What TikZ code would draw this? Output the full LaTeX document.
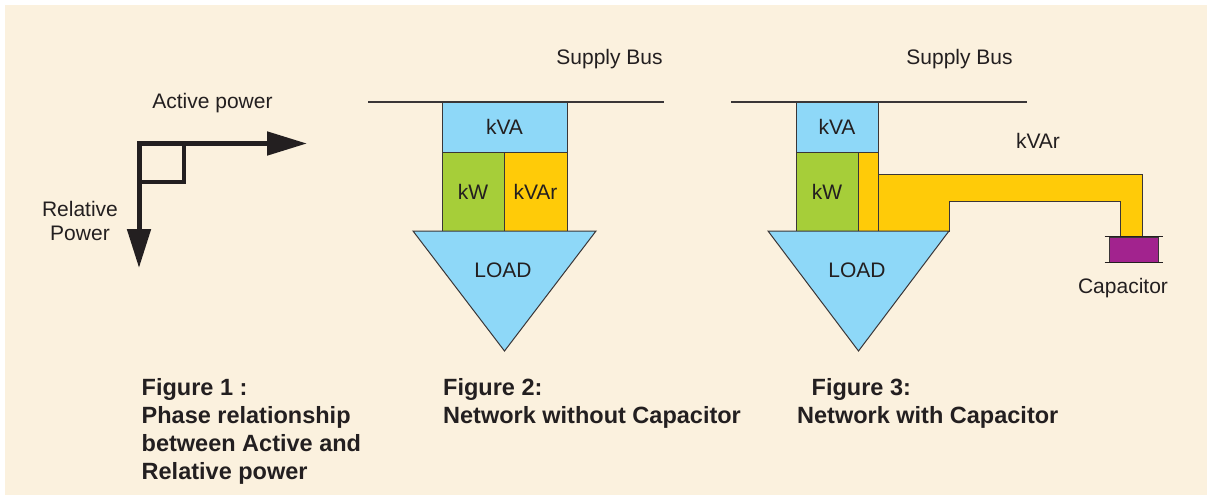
\documentclass[tikz,border=0pt]{standalone}
\usepackage{fontspec}
\setmainfont{Liberation Sans}
\usetikzlibrary{arrows.meta}

\definecolor{paper}{HTML}{FBF1DE}
\definecolor{ink}{HTML}{231F20}
\definecolor{edge}{HTML}{3A3637}
\definecolor{skyfill}{HTML}{8ED8F8}
\definecolor{kwfill}{HTML}{A6CE39}
\definecolor{varfill}{HTML}{FFCB08}
\definecolor{capfill}{HTML}{A2238E}

\tikzset{
  lbl/.style={text=ink, inner sep=0pt, font=\fontsize{21}{25}\selectfont},
  caption/.style={text=ink, inner sep=0pt, anchor=base west, align=left,
    font=\fontsize{23.5}{28}\selectfont\bfseries},
  box/.style={draw=edge, line width=1pt, inner sep=0pt, text=ink,
    font=\fontsize{21}{25}\selectfont},
  shell/.style={draw=edge, line width=1pt, line join=miter},
  bus/.style={draw=edge, line width=1.1pt},
  axis/.style={draw=ink, line width=5pt, line join=miter,
    {Triangle[length=39pt,width=23pt]}-{Triangle[length=40pt,width=23pt]}},
  plate/.style={draw=ink, line width=1.6pt},
}

\begin{document}
\begin{tikzpicture}[x=1pt, y=-1pt]
  % page and backdrop
  \useasboundingbox (0,0) rectangle (1207,495);
  \fill[white] (0,0) rectangle (1207,495);
  \fill[paper] (5,5) rectangle (1207,495);

  % ---------- phase relationship: two perpendicular vectors ----------
  \coordinate (orig) at (139,143.5);
  \coordinate (pend) at (307,143.5);
  \coordinate (qend) at (139,268);
  \coordinate (sq)   at (183.5,182);
  \draw[axis] (qend) -- (orig) -- (pend);
  \draw[ink, line width=4pt, line join=miter] (orig) rectangle (sq);
  \node[lbl, anchor=base] (actlbl) at (212.5,108) {Active power};
  % multi-line nodes: the base anchor sits on the last line
  \node[lbl, anchor=base, align=center] (rellbl) at (80,240)
    {Relative\\[-1pt]Power};

  % ---------- network without capacitor ----------
  \node[lbl, anchor=base] (bus2lbl) at (609.5,64) {Supply Bus};
  \coordinate (b2l) at (368,102);
  \coordinate (b2r) at (664,102);
  \draw[bus] (b2l) -- (b2r);
  \node[box, fill=skyfill, minimum width=125pt, minimum height=50pt]
    (kva2) at (504.5,127) {kVA};
  \node[box, fill=kwfill, minimum width=62pt, minimum height=79pt]
    (kw2) at (473,191.5) {kW};
  \node[box, fill=varfill, minimum width=63pt, minimum height=79pt]
    (kvar2) at (535.5,191.5) {kVAr};
  \filldraw[shell, fill=skyfill] (413,231) -- (596,231) -- (504.5,351) -- cycle;
  \node[lbl, anchor=base] (load2) at (503,277) {LOAD};

  % ---------- network with capacitor ----------
  \node[lbl, anchor=base] (bus3lbl) at (959.5,64) {Supply Bus};
  \coordinate (b3l) at (731,102);
  \coordinate (b3r) at (1027,102);
  \draw[bus] (b3l) -- (b3r);
  \node[box, fill=skyfill, minimum width=82pt, minimum height=50pt]
    (kva3) at (837,127) {kVA};
  \node[box, fill=kwfill, minimum width=62pt, minimum height=79pt]
    (kw3) at (827,191.5) {kW};
  \node[box, fill=varfill, minimum width=20pt, minimum height=79pt]
    (kvar3) at (868,191.5) {};
  % reactive current diverted to the capacitor
  \filldraw[shell, fill=varfill]
    (878,174) -- (1142,174) -- (1142,237) -- (1120,237) -- (1120,201)
    -- (949,201) -- (949,231) -- (878,231) -- cycle;
  \filldraw[shell, fill=skyfill] (768,231) -- (949,231) -- (858.5,351) -- cycle;
  \node[lbl, anchor=base] (load3) at (857,277) {LOAD};
  \node[lbl, anchor=base] (kvarlbl) at (1038,148) {kVAr};

  % capacitor
  \node[box, fill=capfill, minimum width=49pt, minimum height=25pt]
    (cap) at (1133.5,249.5) {};
  \draw[plate] ([xshift=-4pt]cap.north west) -- ([xshift=4pt]cap.north east);
  \draw[plate] ([xshift=-4pt]cap.south west) -- ([xshift=4pt]cap.south east);
  \node[lbl, anchor=base] (caplbl) at (1123,293) {Capacitor};

  % ---------- captions (base anchor = last line) ----------
  \node[caption] (cap1) at (141.5,479)
    {Figure 1 :\\Phase relationship\\between Active and\\Relative power};
  \node[caption] (cap2) at (443,423)
    {Figure 2:\\Network without Capacitor};
  \node[caption] (cap3a) at (811.5,395) {Figure 3:};
  \node[caption] (cap3b) at (797,423) {Network with Capacitor};
\end{tikzpicture}
\end{document}
